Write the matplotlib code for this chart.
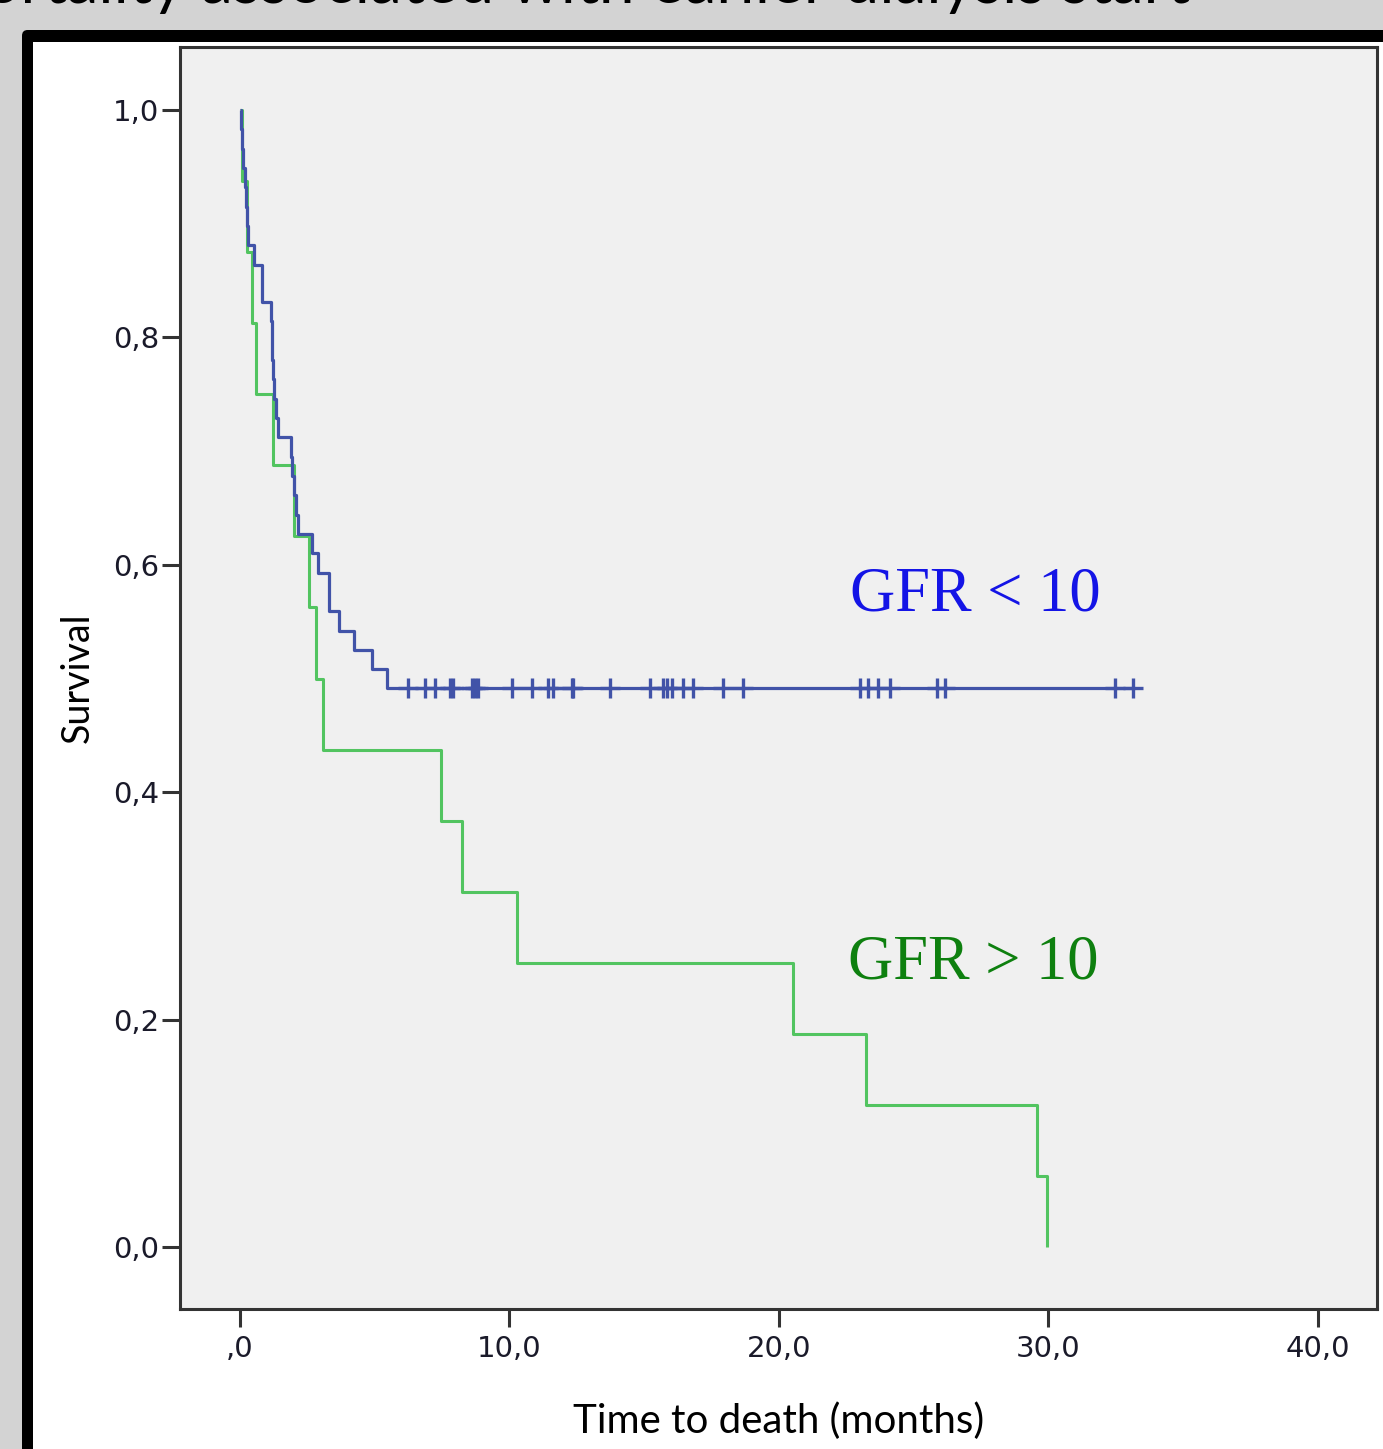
import matplotlib
matplotlib.use("Agg")
import matplotlib.pyplot as plt
from matplotlib.patches import Rectangle, FancyBboxPatch

W, H = 1383, 1449

# ---- data ----
green_times = [0.07, 0.26, 0.45, 0.59, 1.22, 2.00, 2.56, 2.82, 3.08, 7.46,
               8.24, 10.28, 20.52, 23.23, 29.57, 29.94]
green_surv = [0.9375, 0.875, 0.8125, 0.75, 0.6875, 0.625, 0.5625, 0.5,
              0.4375, 0.375, 0.3125, 0.25, 0.1875, 0.125, 0.0625, 0.0]

blue_times = [0.04, 0.07, 0.11, 0.19, 0.22, 0.26, 0.30, 0.52, 0.82, 0.83,
              1.15, 1.17, 1.19, 1.22, 1.26, 1.34, 1.41, 1.89, 1.93, 2.00,
              2.08, 2.15, 2.67, 2.89, 3.30, 3.31, 3.67, 4.23, 4.90, 5.45]
blue_surv = [0.983, 0.966, 0.949, 0.932, 0.915, 0.898, 0.881, 0.864, 0.847, 0.831,
             0.814, 0.797, 0.780, 0.763, 0.746, 0.729, 0.712, 0.695, 0.678, 0.661,
             0.644, 0.627, 0.610, 0.593, 0.576, 0.559, 0.542, 0.525, 0.508, 0.492]
blue_censored = [6.23, 6.86, 7.24, 7.79, 7.90, 8.61, 8.72, 8.83, 10.09, 10.83,
                 11.43, 11.61, 12.32, 12.36, 13.73, 15.21, 15.70, 15.84, 16.03,
                 16.44, 16.81, 17.92, 18.66, 23.01, 23.30, 23.67, 24.12, 25.86,
                 26.16, 32.47, 33.14]

x_ticks = [0, 10, 20, 30, 40]
x_ticklabels = [",0", "10,0", "20,0", "30,0", "40,0"]
y_ticks = [0.0, 0.2, 0.4, 0.6, 0.8, 1.0]
y_ticklabels = ["0,0", "0,2", "0,4", "0,6", "0,8", "1,0"]

label_lt = "GFR < 10"
label_gt = "GFR > 10"
title = "Mortality associated with earlier dialysis start"

# ---- figure ----
fig = plt.figure(figsize=(W / 100, H / 100), dpi=100)
fig.patch.set_facecolor("#d3d3d3")


def fx(px):
    return px / W


def fy(py):
    return 1 - py / H


# slide title (cut off at the top, as in the reference screenshot)
fig.text(fx(1190), fy(3), title, ha="right", va="baseline",
         fontsize=46, family="Lato", color="black")

# black frame + white panel
fig.add_artist(FancyBboxPatch((fx(22), fy(1500)), fx(1500), (1500 - 30) / H,
                              boxstyle="round,pad=0,rounding_size=0.004",
                              transform=fig.transFigure, facecolor="black",
                              edgecolor="none", zorder=0))
fig.add_artist(Rectangle((fx(33), fy(1500)), fx(1500), (1500 - 42) / H,
                         transform=fig.transFigure, facecolor="white",
                         edgecolor="none", zorder=0.5))

ax = fig.add_axes([fx(180), fy(1309), fx(1377) - fx(180), fy(47) - fy(1309)])
ax.set_facecolor("#f0f0f0")
ax.set_zorder(2)

blue_c = "#4153a8"
green_c = "#52c460"

ax.step([0] + green_times, [1.0] + green_surv, where="post",
        color=green_c, lw=2.2, solid_capstyle="butt")
ax.step([0] + blue_times + [blue_censored[-1]],
        [1.0] + blue_surv + [blue_surv[-1]], where="post",
        color=blue_c, lw=2.3, solid_capstyle="butt")
ax.plot(blue_censored, [blue_surv[-1]] * len(blue_censored), ls="none",
        marker="+", ms=15, mew=2.4, color=blue_c)

ax.set_xlim(-2.226, 42.19)
ax.set_ylim(-0.0545, 1.0554)

ax.set_xticks(x_ticks)
ax.set_xticklabels(x_ticklabels)
ax.set_yticks(y_ticks)
ax.set_yticklabels(y_ticklabels)

for s in ax.spines.values():
    s.set_color("#333333")
    s.set_linewidth(2.2)

ax.tick_params(axis="both", direction="out", length=13, width=2.2,
               color="#333333", labelsize=21, labelcolor="#1a1a2a")
ax.tick_params(axis="x", pad=6)
ax.tick_params(axis="y", pad=2)
for lab in ax.get_xticklabels() + ax.get_yticklabels():
    lab.set_family("DejaVu Sans")

ax.set_xlabel("Time to death (months)", family="Lato", fontsize=29,
              color="black", labelpad=28)
ax.set_ylabel("Survival", family="Lato", fontsize=27, color="black",
              labelpad=12)

ax.text(22.63, 0.560, label_lt, color="#1414e6", family="Liberation Serif",
        fontsize=45, ha="left", va="baseline")
ax.text(22.56, 0.2366, label_gt, color="#0e800f", family="Liberation Serif",
        fontsize=45, ha="left", va="baseline")

fig.savefig("out.png", dpi=100, facecolor=fig.get_facecolor())
